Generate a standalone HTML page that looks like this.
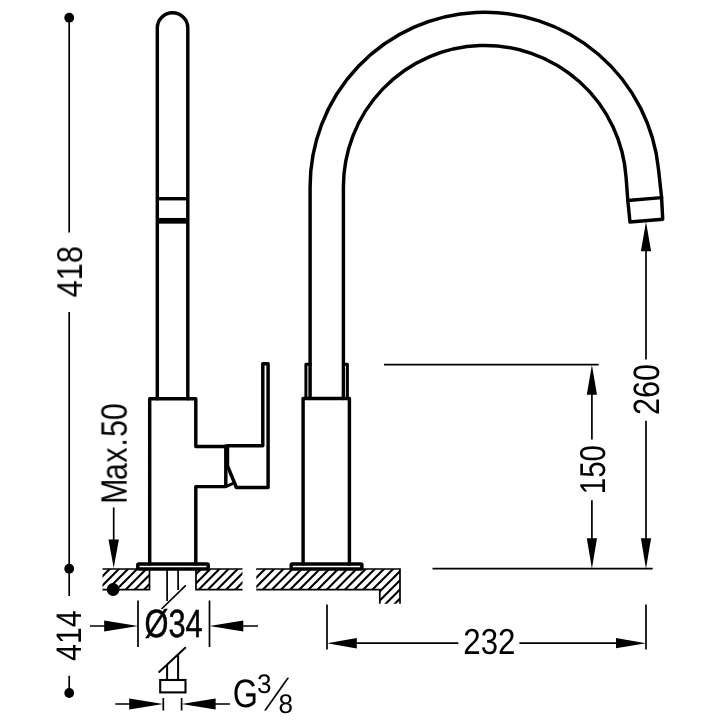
<!DOCTYPE html>
<html lang="en">
<head>
<meta charset="utf-8">
<title>Dimensional drawing</title>
<style>
html,body{margin:0;padding:0;background:#fff;}
body{width:720px;height:720px;overflow:hidden;}
svg{display:block;}
text{font-family:"Liberation Sans",sans-serif;fill:#000;text-rendering:geometricPrecision;}
.k{fill:none;stroke:#000;stroke-width:3.45;stroke-linejoin:round;stroke-linecap:round;}
.t{fill:none;stroke:#000;stroke-width:1.7;stroke-linecap:butt;}
.h{fill:none;stroke:#000;stroke-width:1.7;}
.h2{fill:none;stroke:#000;stroke-width:2.1;}
.a{fill:#000;stroke:none;}
</style>
</head>
<body>
<svg width="720" height="720" viewBox="0 0 720 720">
<rect width="720" height="720" fill="#fff"/>
<defs>
<clipPath id="cclip"><path d="M102.5,569 H149.5 V589.7 H102.5 Z M196,569 H242.5 V589.7 H196 Z M256.3,569 H400 V603.7 H379.8 V589.7 H256.3 Z"/></clipPath>
</defs>

<!-- countertop hatch -->
<g id="counter">
<path class="h2" clip-path="url(#cclip)" d="M392.6,606 L432.6,566 M383.5,606 L423.5,566 M374.3,606 L414.3,566 M365.2,606 L405.2,566 M356.1,606 L396.1,566 M346.9,606 L386.9,566 M337.8,606 L377.8,566 M328.6,606 L368.6,566 M319.5,606 L359.5,566 M310.4,606 L350.4,566 M301.2,606 L341.2,566 M292.1,606 L332.1,566 M282.9,606 L322.9,566 M273.8,606 L313.8,566 M264.7,606 L304.7,566 M255.5,606 L295.5,566 M246.4,606 L286.4,566 M237.2,606 L277.2,566 M228.1,606 L268.1,566 M219.0,606 L259.0,566 M209.8,606 L249.8,566 M200.7,606 L240.7,566 M191.5,606 L231.5,566 M182.4,606 L222.4,566 M173.3,606 L213.3,566 M164.1,606 L204.1,566 M155.0,606 L195.0,566 M145.8,606 L185.8,566 M136.7,606 L176.7,566 M127.6,606 L167.6,566 M118.4,606 L158.4,566 M109.3,606 L149.3,566 M100.1,606 L140.1,566 M91.0,606 L131.0,566 M81.9,606 L121.9,566 M72.7,606 L112.7,566 M63.6,606 L103.6,566"/>
<path class="h" d="M102.5,569 H149.5 V589.7 H102.5"/>
<path class="h" d="M242.5,569 H196 V589.7 H242.5"/>
<path class="h" d="M256.3,569 H400 V603.7 M379.8,603.7 V589.7 H256.3"/>
</g>

<!-- left view -->
<g id="left">
<path class="k" d="M157.3,398.7 V28 A15.25,15.25 0 0 1 187.8,28 V398.7"/>
<path class="k" style="stroke-linecap:butt" d="M157.3,198.7 H187.8"/>
<path class="k" style="stroke-width:5.7;stroke-linecap:butt" d="M157.3,220.8 H187.8"/>
<path class="k" d="M149.7,564 V398.7 H195.8 V446.5 H225.8 M262.8,445.7 V363.8 H268.1 V487.5 H236.4 L227.5,466 V445.7 H262.8"/>
<path class="k" d="M225.8,446 V486.6 H195.8 V564"/>
<path class="k" style="stroke-width:2.8" d="M225.8,486.6 L232.5,483.6"/>
<rect class="k" x="137.8" y="563.9" width="70.4" height="5.1" rx="1"/>
<path class="t" d="M167.1,570 V601 M178.1,570 V590"/>
<path class="t" d="M185.8,585.3 L161.5,609"/>
<path class="t" style="stroke-width:2" d="M185.8,647.3 L158.6,672.6"/>
<path class="t" style="stroke-width:2" d="M167.1,680 V665 M178.1,680 V655"/>
<rect x="160.2" y="680" width="25.3" height="12.4" fill="#fff" stroke="#000" stroke-width="2.1"/>
</g>

<!-- right view -->
<g id="right">
<path class="k" d="M310.10,398.5 V186.90 A174.65,174.65 0 0 1 658.52,169.40 L661.6,197.6"/>
<path class="k" d="M343.40,398.5 V186.90 A141.50,141.50 0 0 1 626.05,177.00 L627.8,200.4"/>
<path class="k" d="M627.8,200.5 L661.6,197.6 L662.7,219.2 L630,222 Z"/>
<path class="k" style="stroke-width:3" d="M310.4,364.3 H305.9 V398.5 M343.4,364.3 H347.4 V398.5"/>
<path class="k" d="M303.1,564 V398.5 H349.4 V564"/>
<rect class="k" x="291.2" y="563.9" width="70.7" height="5.1" rx="1"/>
</g>

<!-- dimension lines -->
<g id="dims">
<circle class="a" cx="69.2" cy="17.7" r="4.9"/>
<circle class="a" cx="69.2" cy="568.7" r="4.9"/>
<circle class="a" cx="69.2" cy="693" r="4.9"/>
<circle class="a" cx="113.1" cy="589.5" r="6.4"/>
<path class="t" d="M69.2,17.5 V232.5 M69.2,312 V596 M69.2,675.8 V693"/>
<path class="t" d="M113.7,507.5 V542"/>
<path class="a" d="M113.7,568 L108.5,539.5 H118.9 Z"/>

<path class="t" d="M138,600.5 V647 M209.5,600.5 V647 M90,626 H106 M242,626 H258"/>
<path class="a" d="M138,626 L104.2,620.6 V631.4 Z"/>
<path class="a" d="M209.5,626 L243.3,620.6 V631.4 Z"/>

<path class="t" d="M163.3,698 V710.5 M181.6,698 V710.5 M115.3,704 H131 M214,704 H230"/>
<path class="a" d="M163.3,704 L129.2,698.6 V709.4 Z"/>
<path class="a" d="M181.6,704 L215.6,698.6 V709.4 Z"/>

<path class="t" d="M384,364.7 H598.7 M432.5,568.7 H652.7"/>
<path class="t" d="M591.9,393 V439.4 M591.9,500.3 V540"/>
<path class="a" d="M591.9,364.7 L586.8,394.7 H597 Z"/>
<path class="a" d="M591.9,568.7 L586.8,538.2 H597 Z"/>
<path class="t" d="M646,250 V359.4 M646,420.7 V540"/>
<path class="a" d="M646,221.8 L640.9,251.3 H651.1 Z"/>
<path class="a" d="M646,568.7 L640.9,538.2 H651.1 Z"/>

<path class="t" d="M327,604.6 V649.6 M646,604.6 V649.6 M355,643.2 H458.3 M519.4,643.2 H617"/>
<path class="a" d="M327,643.2 L356.8,638 V648.4 Z"/>
<path class="a" d="M646,643.2 L616,638.1 V648.3 Z"/>
</g>

<g id="labels" style="opacity:0.999">
<text style="font-size:35.93px" transform="translate(82.00,297.39) rotate(-90) scale(0.8563,1.0000)">418</text>
<text style="font-size:35.54px" transform="translate(80.90,660.92) rotate(-90) scale(0.8527,1.0000)">414</text>
<text x="-1.69 27.02 48.25 67.54 79.42 99.80" style="font-size:36.65px" transform="translate(126.65,502.47) rotate(-90) scale(0.8263,1.0000)">Max.50</text>
<text style="font-size:35.93px" transform="translate(604.97,494.15) rotate(-90) scale(0.8199,1.0000)">150</text>
<text style="font-size:36.65px" transform="translate(659.00,415.02) rotate(-90) scale(0.8350,1.0000)">260</text>
<text style="font-size:36.29px" transform="translate(463.37,654.45) scale(0.8609,1.0000)">232</text>
<text style="font-size:39.30px;stroke:#000;stroke-width:0.50px" transform="translate(144.47,636.60) scale(0.7828,1.0000)">Ø34</text>
<text style="font-size:39.70px" transform="translate(232.68,706.85) scale(0.8152,1.0000)">G</text>
<text style="font-size:26.81px" transform="translate(256.98,693.00) scale(0.9731,1.0000)">3</text>
<text style="font-size:44.4px" transform="translate(264.2,709.7) skewX(-28.6) scale(0.6,1)">/</text>
<text style="font-size:26.81px" transform="translate(278.38,713.25) scale(0.9719,1.0000)">8</text>

</g>
</svg>
</body>
</html>
